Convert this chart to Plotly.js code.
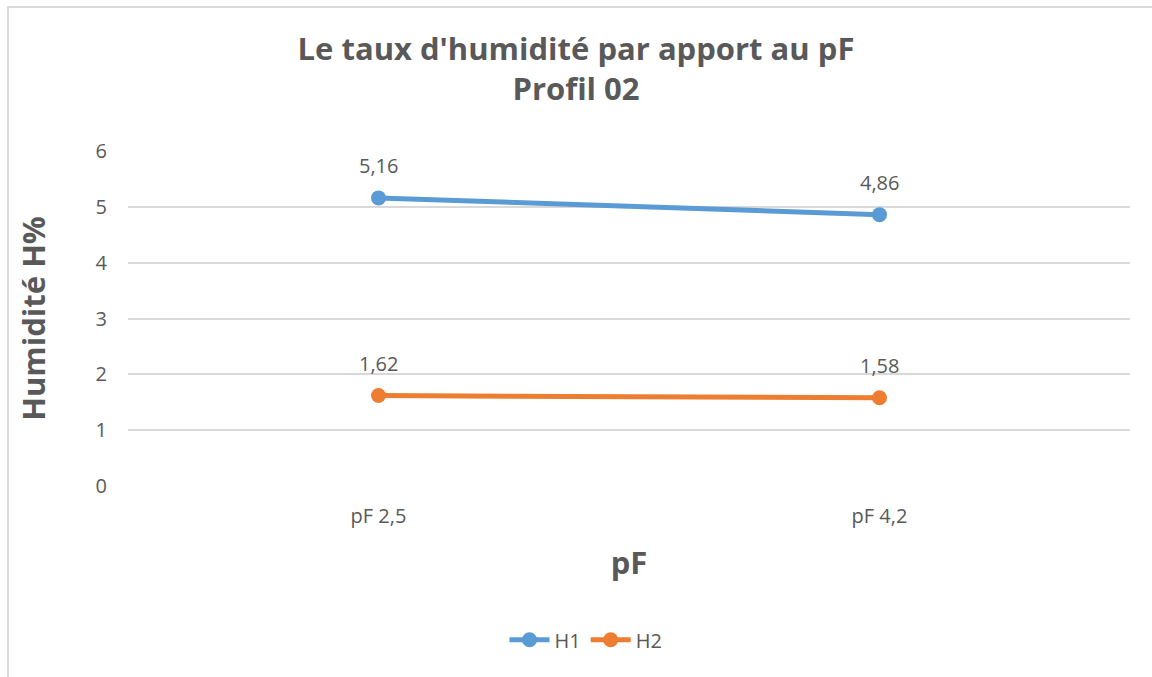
<!DOCTYPE html>
<html>
<head>
<meta charset="utf-8">
<script src="https://cdn.plot.ly/plotly-3.0.1.min.js"></script>
<style>
html,body{margin:0;padding:0;background:#fff;}
#chart{position:absolute;left:0;top:0;width:1152px;height:677px;}
#frame{position:absolute;left:7px;top:6px;width:1150px;height:680px;border:2px solid #d9d9d9;box-sizing:border-box;pointer-events:none;}
</style>
</head>
<body>
<div id="chart"></div>
<div id="frame"></div>
<script>
const categories = ["pF 2,5", "pF 4,2"];
const seriesNames = ["H1", "H2"];
const h1Values = [5.16, 4.86];
const h2Values = [1.62, 1.58];
const yTicks = [0, 1, 2, 3, 4, 5, 6];

const font = "Open Sans, Noto Sans, sans-serif";
const grey = "#595959";
const fmt = v => v.toFixed(2).replace(".", ",");

function series(name, vals, color) {
  return {
    type: "scatter",
    mode: "lines+markers",
    name: name,
    x: categories,
    y: vals,
    line: {color: color, width: 5},
    marker: {color: color, size: 15},
    cliponaxis: false
  };
}

const data = [
  series(seriesNames[0], h1Values, "#5B9BD5"),
  series(seriesNames[1], h2Values, "#ED7D31")
];

const annotations = [];
[h1Values, h2Values].forEach(vals => {
  vals.forEach((v, i) => {
    annotations.push({
      x: categories[i], y: v, xref: "x", yref: "y",
      text: fmt(v), showarrow: false,
      yanchor: "bottom", yshift: 17,
      font: {family: font, size: 20, color: grey}
    });
  });
});

const layout = {
  width: 1152, height: 677,
  paper_bgcolor: "#ffffff", plot_bgcolor: "#ffffff",
  margin: {l: 128, r: 22, t: 151, b: 191},
  showlegend: true,
  font: {family: font, color: grey},
  title: {
    text: "<b>Le taux d'humidité par apport au pF</b><br><b>Profil 02</b>",
    font: {family: font, size: 31, color: grey},
    x: 0.5, xanchor: "center",
    yref: "container", y: 1 - 60/677, yanchor: "top"
  },
  annotations: annotations,
  xaxis: {
    type: "category",
    range: [-0.5, 1.5],
    showgrid: false, zeroline: false, showline: false,
    ticks: "", ticklabelstandoff: 16,
    tickfont: {family: font, size: 20, color: grey},
    title: {text: "<b>pF</b>", font: {family: font, size: 31, color: grey}, standoff: 24},
    fixedrange: true
  },
  yaxis: {
    range: [0, 6],
    tickvals: yTicks,
    showgrid: true, gridcolor: "#d9d9d9", gridwidth: 2,
    zeroline: false, showline: false,
    ticks: "", ticklabelstandoff: 20,
    tickfont: {family: font, size: 20, color: grey},
    title: {text: "<b>Humidité H%</b>", font: {family: font, size: 31, color: grey}, standoff: 40},
    fixedrange: true
  },
  legend: {
    orientation: "h",
    x: 586/1152, xanchor: "center", xref: "container",
    y: 0.055, yref: "container", yanchor: "middle",
    font: {family: font, size: 20, color: grey},
    itemwidth: 40
  }
};

Plotly.newPlot("chart", data, layout, {displayModeBar: false, staticPlot: true});
</script>
</body>
</html>
